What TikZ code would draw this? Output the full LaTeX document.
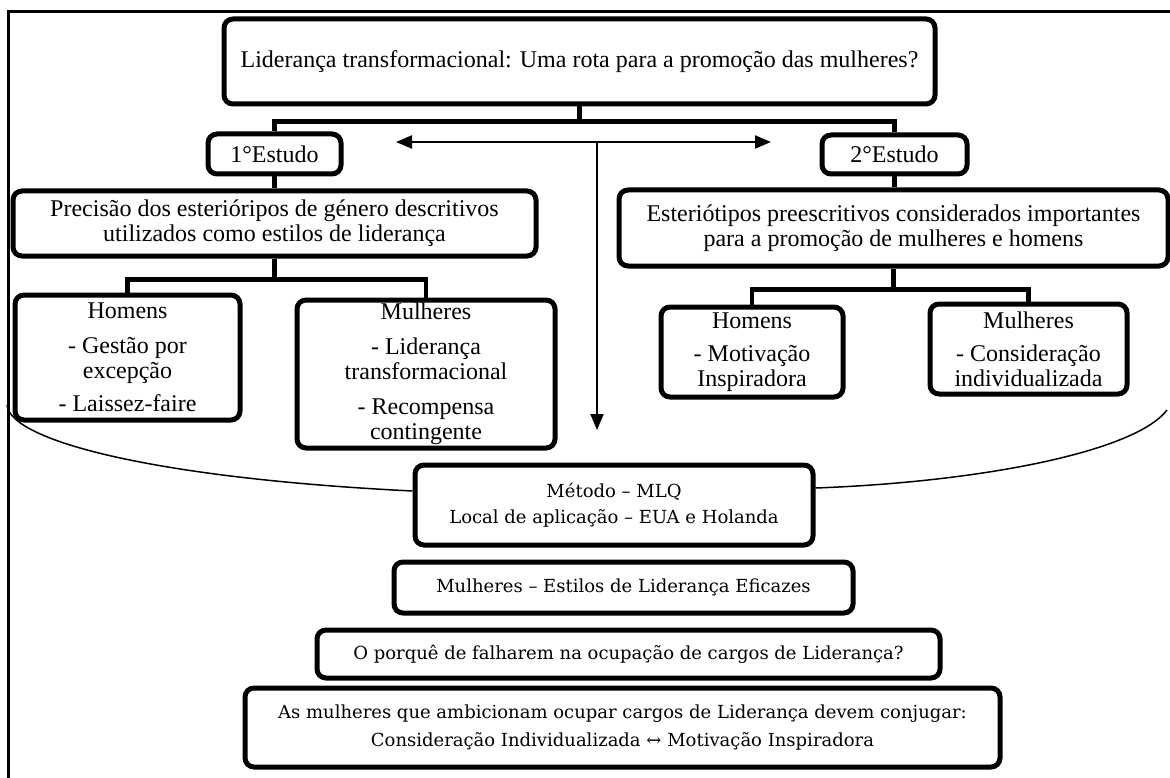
\documentclass[tikz,border=0pt]{standalone}
\usepackage{fontspec}
\setmainfont{Liberation Serif}
\newfontfamily\bfam{DejaVu Serif}
\usetikzlibrary{arrows.meta}
\begin{document}
\begin{tikzpicture}[x=1pt,y=-1pt,
  box/.style={draw,line width=5pt,rounded corners=9pt,fill=white,inner sep=0pt,align=center,font=\fontsize{24}{25}\selectfont},
  lowbox/.style={box,font=\bfam\fontsize{18}{26}\selectfont},
  conn/.style={line width=4.5pt},
  arr/.style={line width=2pt,-{Triangle[length=16pt,width=13pt]}},
  dbl/.style={line width=2pt,{Triangle[length=16pt,width=13pt]}-{Triangle[length=16pt,width=13pt]}},
  curv/.style={line width=1.5pt},
  frame/.style={line width=3pt}]
\useasboundingbox (0,0) rectangle (1170,778);
\draw[frame] (8,778) -- (8,12) -- (1170,12);

\node[box,minimum width=711pt,minimum height=85pt] (title) at (579.5,61.5) {Liderança transformacional: Uma rota para a promoção das mulheres?};
\node[box,minimum width=133pt,minimum height=40pt] (e1) at (274.5,154) {1°Estudo};
\node[box,minimum width=145pt,minimum height=39pt] (e2) at (894.5,154.5) {2°Estudo};
\node[box,minimum width=523pt,minimum height=65pt] (p) at (274.5,223.5) {Precisão dos esterióripos de género descritivos\\utilizados como estilos de liderança};
\node[box,minimum width=225pt,minimum height=125pt] (h1) at (127.5,357.5) {Homens\\[10pt]- Gestão por\\excepção\\[8pt]- Laissez-faire};
\node[box,minimum width=258pt,minimum height=148pt] (m1) at (426,374) {Mulheres\\[10pt]- Liderança\\transformacional\\[10pt]- Recompensa\\contingente};
\node[box,minimum width=549pt,minimum height=76pt] (s) at (893.5,228) {Esteriótipos preescritivos considerados importantes\\para a promoção de mulheres e homens};
\node[box,minimum width=182pt,minimum height=90pt] (h2) at (752,352) {Homens\\[8pt]- Motivação\\Inspiradora};
\node[box,minimum width=197pt,minimum height=90pt] (m2) at (1028.5,349) {Mulheres\\[8pt]- Consideração\\individualizada};

\node[lowbox,minimum width=398pt,minimum height=80pt] (met) at (614,505) {Método – MLQ\\Local de aplicação – EUA e Holanda};
\node[lowbox,minimum width=459pt,minimum height=51pt] (mef) at (623.5,587.5) {Mulheres – Estilos de Liderança Eficazes};
\node[lowbox,minimum width=623pt,minimum height=48pt] (por) at (628.5,654) {O porquê de falharem na ocupação de cargos de Liderança?};
\node[lowbox,minimum width=755pt,minimum height=79pt,font=\bfam\fontsize{18}{28}\selectfont] (amb) at (622.5,727.5) {As mulheres que ambicionam ocupar cargos de Liderança devem conjugar:\\Consideração Individualizada ↔ Motivação Inspiradora};

\draw[conn] (title.south) -- ++(0,15) -| (e1.north);
\draw[conn] (title.south) -- ++(0,15) -| (e2.north);
\draw[conn] (e1.south) -- (p.north);
\draw[conn] (e2.south) -- (e2.south |- s.north);
\draw[conn] (p.south) -- ++(0,21) -| (h1.north);
\draw[conn] (p.south) -- ++(0,21) -| (m1.north);
\draw[conn] (s.south) -- ++(0,21) -| (h2.north);
\draw[conn] (s.south) -- ++(0,21) -| (m2.north);

\coordinate (J) at (597,142);
\coordinate (aL) at (396,142);
\coordinate (aR) at (771,142);
\coordinate (aD) at (597,430);
\draw[dbl] (aL) -- (aR);
\draw[arr] (J) -- (aD);

\coordinate (cL) at (7,405);
\coordinate (cR) at (1167,410);
\draw[curv] (cL) .. controls (10,440) and (150,478) .. ([yshift=14pt]met.west);
\draw[curv] ([yshift=17pt]met.east) .. controls (980,482) and (1135,452) .. (cR);
\end{tikzpicture}
\end{document}
